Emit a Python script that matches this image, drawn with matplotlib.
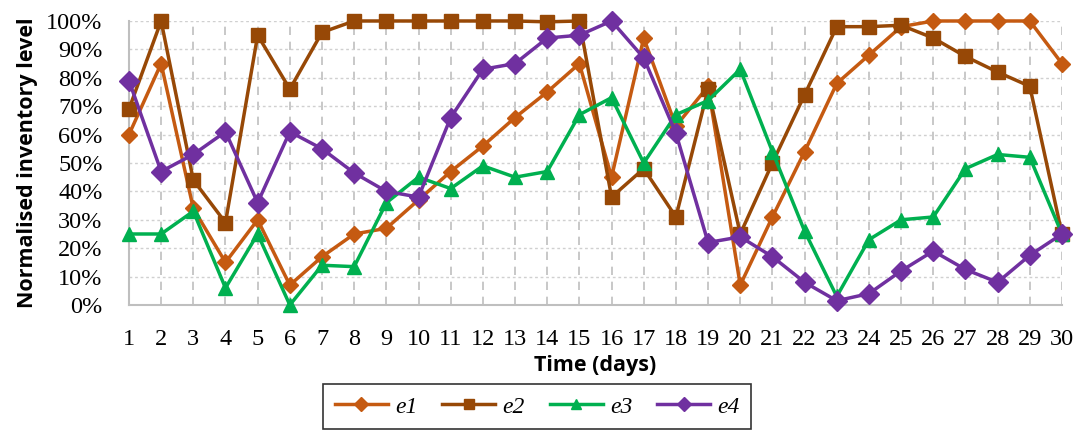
import numpy as np
import matplotlib
matplotlib.use('Agg')
import matplotlib.pyplot as plt
from matplotlib.ticker import PercentFormatter

# datos
dias = list(range(1, 31))
e1 = [60, 85, 34, 15, 30, 7, 17, 25, 27, 37, 47, 56, 66, 75, 85,
      45, 94, 63, 77, 7, 31, 54, 78, 88, 98, 100, 100, 100, 100, 85]
e2 = [69, 100, 44, 29, 95, 76, 96, 100, 100, 100, 100, 100, 100, 99.7, 100,
      38, 48, 31, 76, 25, 50, 74, 98, 98, 98.5, 94, 87.5, 82, 77, 25]
e3 = [25, 25, 33, 6, 25, 0, 14, 13.5, 36, 45, 41, 49, 45, 47, 67,
      73, 50, 67, 72, 83, 54, 26, 3, 23, 30, 31, 48, 53, 52, 25]
e4 = [79, 47, 53, 61, 36, 61, 55, 46.5, 40, 38, 66, 83, 85, 94, 95,
      100, 87, 60.5, 22, 24, 17, 8, 1.5, 4, 12, 19, 12.5, 8, 17.5, 25]

series = [('e1', e1, '#C55A11', 'D', 8),
          ('e2', e2, '#974806', 's', 10),
          ('e3', e3, '#00B050', '^', 10),
          ('e4', e4, '#7030A0', 'D', 10)]

fig = plt.figure(figsize=(10.81, 4.3), dpi=100)
ax = fig.add_axes([0.1193, 0.2907, 0.8631, 0.6605])

for nombre, vals, col, mk, ms in series:
    ax.plot(dias, vals, color=col, marker=mk, markersize=ms, linewidth=2.5,
            label=nombre, clip_on=False, zorder=3)

ax.set_xlim(1, 30)
ax.set_ylim(0, 100)
ax.set_xticks(dias)
ax.set_yticks(np.arange(0, 101, 10))
ax.yaxis.set_major_formatter(PercentFormatter(decimals=0))
ax.tick_params(length=0, labelsize=17.5)
ax.tick_params(axis='y', pad=19)
ax.tick_params(axis='x', pad=17)
for lab in ax.get_xticklabels() + ax.get_yticklabels():
    lab.set_family('Liberation Serif')

ax.grid(axis='x', color='#BFBFBF', linestyle=(0, (5, 4)), linewidth=1.2)
ax.grid(axis='y', color='#D0D0D0', linestyle=(0, (2, 2)), linewidth=1)
ax.set_axisbelow(True)
for s in ['top', 'right']:
    ax.spines[s].set_visible(False)
for s in ['left', 'bottom']:
    ax.spines[s].set_color('#BFBFBF')
    ax.spines[s].set_linewidth(1.5)

ax.set_xlabel('Time (days)', fontsize=15.5, fontweight='bold', family='Open Sans', labelpad=4)
ax.set_ylabel('Normalised inventory level', fontsize=15.5, fontweight='bold', family='Open Sans', labelpad=6)

leg = fig.legend(loc='center', bbox_to_anchor=(0.497, 0.054), ncol=4, frameon=True,
                 fancybox=False, edgecolor='black', handlelength=2.25, handletextpad=0.3,
                 columnspacing=1.05, borderpad=0.5,
                 prop={'family': 'Liberation Serif', 'style': 'italic', 'size': 17})
leg.get_frame().set_linewidth(1.2)
for h in leg.legend_handles:
    h.set_markersize(7)

fig.savefig('out.png', dpi=100)
